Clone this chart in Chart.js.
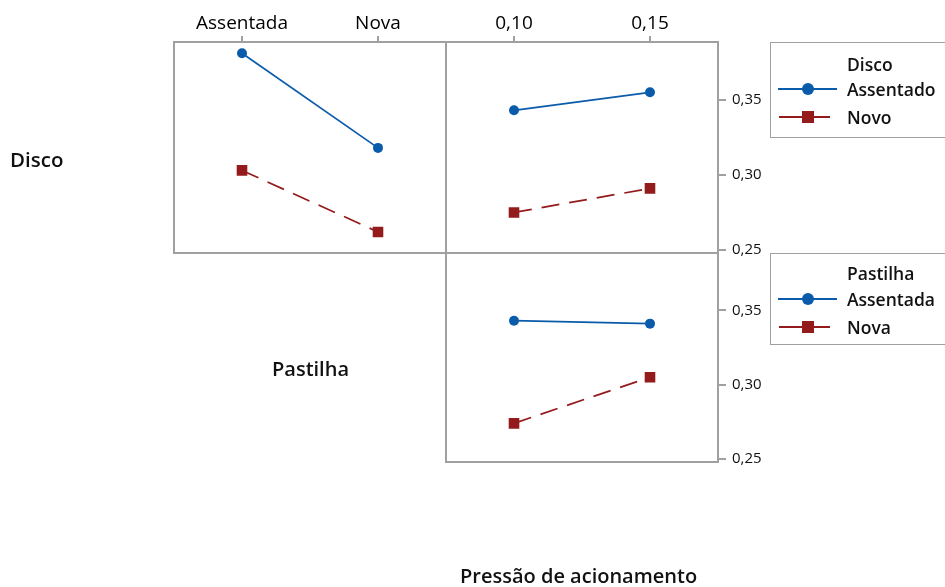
<!DOCTYPE html>
<html lang="pt">
<head>
<meta charset="utf-8">
<title>Gráfico de interação</title>
<script src="https://cdn.jsdelivr.net/npm/chart.js@4.4.1/dist/chart.umd.min.js"></script>
<style>
  html, body { margin: 0; padding: 0; background: #fff; }
  #wrap { position: relative; width: 945px; height: 587px; overflow: hidden; font-family: "Open Sans", "Noto Sans", sans-serif; color: #111; }
  #wrap canvas { position: absolute; left: 0; top: 0; }
  .lbl { position: absolute; font-size: 20px; font-weight: 600; white-space: nowrap; line-height: 24px; }
  .legend { position: absolute; border: 1.5px solid #a0a0a0; background: transparent; }
  .legend .t { position: absolute; font-size: 17.5px; font-weight: 600; white-space: nowrap; line-height: 20px; }
  .legend svg { position: absolute; }
</style>
</head>
<body>
<div id="wrap">
  <canvas id="cDiscoPastilha" width="945" height="587"></canvas>
  <canvas id="cDiscoPressao" width="945" height="587"></canvas>
  <canvas id="cPastilhaPressao" width="945" height="587"></canvas>

  <div class="lbl" style="left:10px; top:147px; font-size:20.5px;">Disco</div>
  <div class="lbl" style="left:272px; top:357px;">Pastilha</div>
  <div class="lbl" style="left:460px; top:564px;">Pressão de acionamento</div>

  <div class="legend" id="legDisco" style="left:770px; top:42px; width:200px; height:94px;"></div>
  <div class="legend" id="legPastilha" style="left:770px; top:253px; width:200px; height:90px;"></div>
</div>

<script>
// Factor levels
const pastilhaLevels = ['Assentada', 'Nova'];
const discoLevels = ['Assentado', 'Novo'];
const pressaoLevels = ['0,10', '0,15'];

// Mean response: Disco (series) by Pastilha (x)
const discoAssentado_porPastilha = [0.381, 0.318];
const discoNovo_porPastilha = [0.303, 0.262];

// Mean response: Disco (series) by Pressão de acionamento (x)
const discoAssentado_porPressao = [0.343, 0.355];
const discoNovo_porPressao = [0.275, 0.291];

// Mean response: Pastilha (series) by Pressão de acionamento (x)
const pastilhaAssentada_porPressao = [0.343, 0.341];
const pastilhaNova_porPressao = [0.274, 0.305];

// Shared response axis
const yTicks = [0.25, 0.30, 0.35];
const yMin = 0.248;
const yMax = 0.3885;

const BLUE = '#0b5bab';
const RED = '#941b1b';
const FRAME = '#a0a0a0';
const FONT = '"Open Sans", "Noto Sans", sans-serif';

// Outline around each panel's plot area
const panelFrame = {
  id: 'panelFrame',
  afterDraw(chart) {
    const a = chart.chartArea, ctx = chart.ctx;
    ctx.save();
    ctx.strokeStyle = FRAME;
    ctx.lineWidth = 2;
    ctx.strokeRect(a.left, a.top, a.right - a.left, a.bottom - a.top);
    ctx.restore();
  }
};

function seriesPair(labelA, dataA, labelB, dataB) {
  return [
    {
      label: labelA, data: dataA,
      borderColor: BLUE, backgroundColor: BLUE,
      borderWidth: 1.7, pointStyle: 'circle', pointRadius: 5,
      pointBorderWidth: 0, tension: 0
    },
    {
      label: labelB, data: dataB,
      borderColor: RED, backgroundColor: RED,
      borderWidth: 1.7, borderDash: [18, 10], pointStyle: 'rect', pointRadius: 7.5,
      pointBorderWidth: 0, tension: 0
    }
  ];
}

function xAxis(show) {
  return {
    type: 'category',
    position: 'top',
    offset: true,
    display: show,
    afterFit: s => { s.height = show ? 42 : 0; },
    grid: { drawOnChartArea: false, drawTicks: true, tickLength: 6, color: FRAME, lineWidth: 2 },
    border: { display: false },
    ticks: { color: '#000', font: { family: FONT, size: 19, weight: 500 }, padding: 1, maxRotation: 0 }
  };
}

function yAxis(show) {
  return {
    type: 'linear',
    position: 'right',
    display: show,
    min: yMin, max: yMax,
    afterFit: s => { s.width = show ? 50 : 0; },
    afterBuildTicks: s => { s.ticks = yTicks.map(v => ({ value: v })); },
    grid: { drawOnChartArea: false, drawTicks: true, tickLength: 8, color: FRAME, lineWidth: 2 },
    border: { display: false },
    ticks: {
      color: '#111', font: { family: FONT, size: 15, weight: 500 }, padding: 6,
      callback: v => v.toFixed(2).replace('.', ',')
    }
  };
}

function makePanel(id, labels, datasets, padding, showX, showY) {
  return new Chart(document.getElementById(id), {
    type: 'line',
    data: { labels, datasets },
    options: {
      responsive: false,
      animation: false,
      devicePixelRatio: 1,
      layout: { padding },
      plugins: { legend: { display: false }, tooltip: { enabled: false } },
      scales: { x: xAxis(showX), y: yAxis(showY) }
    },
    plugins: [panelFrame]
  });
}

// Disco x Pastilha (top-left)
makePanel('cDiscoPastilha', pastilhaLevels,
  seriesPair(discoLevels[0], discoAssentado_porPastilha, discoLevels[1], discoNovo_porPastilha),
  { left: 174, right: 499, top: 0, bottom: 334 }, true, false);

// Disco x Pressão (top-right)
makePanel('cDiscoPressao', pressaoLevels,
  seriesPair(discoLevels[0], discoAssentado_porPressao, discoLevels[1], discoNovo_porPressao),
  { left: 446, right: 177, top: 0, bottom: 334 }, true, true);

// Pastilha x Pressão (bottom-right)
makePanel('cPastilhaPressao', pressaoLevels,
  seriesPair(pastilhaLevels[0], pastilhaAssentada_porPressao, pastilhaLevels[1], pastilhaNova_porPressao),
  { left: 446, right: 177, top: 253, bottom: 125 }, false, true);

// Legend boxes
function buildLegend(el, title, names, titleTop, rowTops) {
  const add = (txt, top) => {
    const d = document.createElement('div');
    d.className = 't';
    d.style.left = '76px';
    d.style.top = top + 'px';
    d.textContent = txt;
    el.appendChild(d);
  };
  add(title, titleTop);
  const svgNS = 'http://www.w3.org/2000/svg';
  names.forEach((n, i) => {
    add(n, rowTops[i]);
    const svg = document.createElementNS(svgNS, 'svg');
    svg.setAttribute('width', '64');
    svg.setAttribute('height', '16');
    svg.style.left = '6px';
    svg.style.top = (rowTops[i] + 2) + 'px';
    const line = document.createElementNS(svgNS, 'line');
    line.setAttribute('x1', i === 0 ? '1' : '2');
    line.setAttribute('x2', i === 0 ? '60' : '53');
    line.setAttribute('y1', '8'); line.setAttribute('y2', '8');
    line.setAttribute('stroke', i === 0 ? BLUE : RED);
    line.setAttribute('stroke-width', '2');
    svg.appendChild(line);
    if (i === 0) {
      const c = document.createElementNS(svgNS, 'circle');
      c.setAttribute('cx', '31'); c.setAttribute('cy', '8'); c.setAttribute('r', '6');
      c.setAttribute('fill', BLUE);
      svg.appendChild(c);
    } else {
      const r = document.createElementNS(svgNS, 'rect');
      r.setAttribute('x', '25'); r.setAttribute('y', '2');
      r.setAttribute('width', '12'); r.setAttribute('height', '12');
      r.setAttribute('fill', RED);
      svg.appendChild(r);
    }
    el.appendChild(svg);
  });
}
buildLegend(document.getElementById('legDisco'), 'Disco', discoLevels, 11, [36, 64]);
buildLegend(document.getElementById('legPastilha'), 'Pastilha', pastilhaLevels, 9, [35, 63]);
</script>
</body>
</html>
